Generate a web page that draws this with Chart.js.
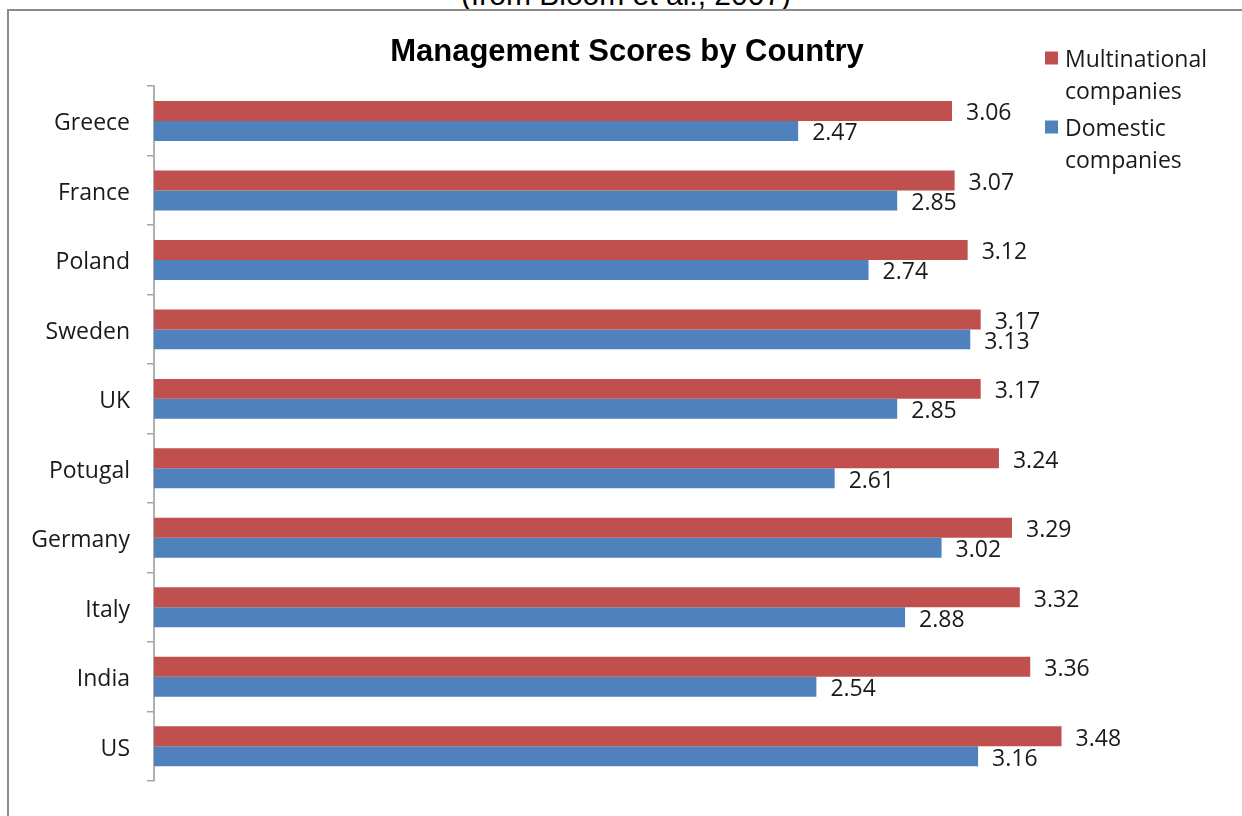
<!DOCTYPE html>
<html>
<head>
<meta charset="utf-8">
<script src="https://cdn.jsdelivr.net/npm/chart.js@4.4.1/dist/chart.umd.min.js"></script>
<style>
  html, body { margin: 0; padding: 0; background: #ffffff; overflow: hidden; }
  #wrap { position: relative; width: 1242px; height: 816px; overflow: hidden; }
  #note { position: absolute; left: 0; width: 1252px; top: -20px; text-align: center;
          font-family: "Liberation Sans", Arial, sans-serif; font-size: 30px; color: #000; line-height: 30px; }
  #frame { position: absolute; left: 7px; top: 9px; width: 1400px; height: 1000px;
           border-top: 2px solid #8c8c8c; border-left: 2px solid #8c8c8c; }
  #c { position: absolute; left: 0; top: 0; }
</style>
</head>
<body>
<div id="wrap">
  <div id="note">(from Bloom et al., 2007)</div>
  <div id="frame"></div>
  <canvas id="c" width="1242" height="816"></canvas>
</div>
<script>
const countries = ["Greece", "France", "Poland", "Sweden", "UK", "Potugal", "Germany", "Italy", "India", "US"];
const multinational = [3.06, 3.07, 3.12, 3.17, 3.17, 3.24, 3.29, 3.32, 3.36, 3.48];
const domestic = [2.47, 2.85, 2.74, 3.13, 2.85, 2.61, 3.02, 2.88, 2.54, 3.16];
const seriesNames = [["Multinational", "companies"], ["Domestic", "companies"]];
const seriesColors = ["#C0504D", "#4F81BD"];
const chartTitle = "Management Scores by Country";

const textFont = '"Open Sans", "Noto Sans", sans-serif';

const valueLabels = {
  id: 'valueLabels',
  afterDatasetsDraw(chart) {
    const ctx = chart.ctx;
    ctx.save();
    ctx.font = '23px ' + textFont;
    ctx.fillStyle = '#1a1a1a';
    ctx.textAlign = 'left';
    ctx.textBaseline = 'middle';
    chart.data.datasets.forEach((ds, i) => {
      const meta = chart.getDatasetMeta(i);
      meta.data.forEach((el, j) => {
        ctx.fillText(ds.data[j].toFixed(2), el.x + 14, el.y + 3);
      });
    });
    ctx.restore();
  }
};

const sideLegend = {
  id: 'sideLegend',
  afterDraw(chart) {
    const ctx = chart.ctx;
    ctx.save();
    ctx.font = '23px ' + textFont;
    ctx.textAlign = 'left';
    ctx.textBaseline = 'middle';
    const starts = [58, 127];
    chart.data.datasets.forEach((ds, i) => {
      const y0 = starts[i];
      ctx.fillStyle = ds.backgroundColor;
      ctx.fillRect(1045, y0 - 6.5, 13, 13);
      ctx.fillStyle = '#1a1a1a';
      seriesNames[i].forEach((line, k) => {
        ctx.fillText(line, 1065, y0 + 2 + k * 32);
      });
    });
    ctx.restore();
  }
};

new Chart(document.getElementById('c'), {
  type: 'bar',
  data: {
    labels: countries,
    datasets: [
      { label: seriesNames[0].join(' '), data: multinational, backgroundColor: seriesColors[0],
        barPercentage: 1.0, categoryPercentage: 0.575 },
      { label: seriesNames[1].join(' '), data: domestic, backgroundColor: seriesColors[1],
        barPercentage: 1.0, categoryPercentage: 0.575 }
    ]
  },
  options: {
    indexAxis: 'y',
    responsive: false,
    animation: false,
    layout: { padding: { left: 12, right: 0, top: 34, bottom: 35 } },
    plugins: {
      legend: { display: false },
      tooltip: { enabled: false },
      title: {
        display: true,
        text: chartTitle,
        color: '#000000',
        font: { family: '"Liberation Sans", Arial, sans-serif', size: 31, weight: 'bold', lineHeight: 1.2 },
        padding: { top: 0, bottom: 15 }
      }
    },
    scales: {
      x: {
        display: false,
        min: 0,
        max: 4.172
      },
      y: {
        afterFit(scale) { scale.width = 142; },
        grid: {
          display: true,
          offset: true,
          drawOnChartArea: false,
          drawTicks: true,
          tickLength: 7,
          color: '#a6a6a6',
          lineWidth: 1.5
        },
        border: { display: true, color: '#b0b0b0', width: 2 },
        ticks: {
          color: '#1a1a1a',
          padding: 17,
          labelOffset: 3,
          font: { family: textFont, size: 23 }
        }
      }
    }
  },
  plugins: [valueLabels, sideLegend]
});
</script>
</body>
</html>
